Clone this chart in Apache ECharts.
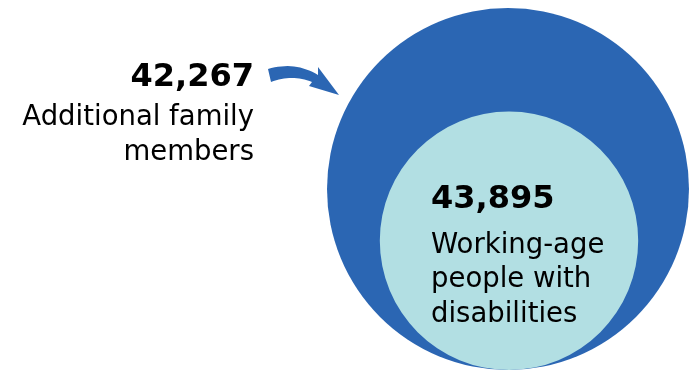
<!DOCTYPE html>
<html>
<head>
<meta charset="utf-8">
<script src="https://cdn.jsdelivr.net/npm/echarts@6/dist/echarts.min.js"></script>
<style>
  html, body { margin: 0; padding: 0; background: #fff; }
  #chart { width: 689px; height: 371px; }
</style>
</head>
<body>
<div id="chart"></div>
<script>
// Groups shown as nested circles: circle area follows the group's count
const groupNames = ['Additional family members', 'Working-age people with disabilities'];
const groupValues = [42267, 43895];
const groupLines = [['Additional family', 'members'], ['Working-age', 'people with', 'disabilities']];
const groupColors = ['#2b66b3', '#b2dfe3'];

const total = groupValues[0] + groupValues[1];
const fmt = v => v.toLocaleString('en-US');

const chart = echarts.init(document.getElementById('chart'));

// Outer circle holds everyone; inner circle sits on the outer circle's bottom edge
const outerR = 181;
const outerCx = 508, outerCy = 189;
const innerR = outerR * Math.sqrt(groupValues[1] / total);
const innerCy = outerCy + outerR - innerR;

const font = '"DejaVu Sans", Verdana, sans-serif';

function pieCircle(name, value, color, cx, cy, r) {
  return {
    type: 'pie',
    name: name,
    center: [cx, cy],
    radius: [0, r],
    silent: true,
    animation: false,
    label: { show: false },
    labelLine: { show: false },
    itemStyle: { color: color, borderWidth: 0 },
    data: [{ name: name, value: value }]
  };
}

// sample a quadratic Bezier into points
function quad(p0, c, p1, n) {
  const pts = [];
  for (let i = 0; i <= n; i++) {
    const t = i / n, u = 1 - t;
    pts.push([u * u * p0[0] + 2 * u * t * c[0] + t * t * p1[0],
              u * u * p0[1] + 2 * u * t * c[1] + t * t * p1[1]]);
  }
  return pts;
}

// curved arrow: upper edge, head, then lower edge back to the tail
const arrowPts = [].concat(
  quad([268, 69], [295, 61], [318, 75], 16),
  [[318, 67], [339, 95], [309, 86]],
  quad([312, 82], [292, 74], [271, 82], 16)
);

// one text line, vertically centred on y
function line(text, x, y, size, bold, align) {
  return {
    type: 'text', x: x, y: y, z: 100,
    style: {
      text: text, fontFamily: font, fill: '#000',
      fontSize: size, fontWeight: bold ? 'bold' : 'normal',
      align: align, verticalAlign: 'middle'
    }
  };
}

const lineGap = 35;
const leftX = 254, innerX = 431;
const graphics = [];

// left-hand callout
graphics.push(line(fmt(groupValues[0]), leftX, 78, 32, true, 'right'));
groupLines[0].forEach((t, i) => graphics.push(line(t, leftX, 118 + i * lineGap, 27.5, false, 'right')));
graphics.push({ type: 'polygon', z: 100, shape: { points: arrowPts }, style: { fill: groupColors[0] } });

// label inside the inner circle
graphics.push(line(fmt(groupValues[1]), innerX, 200, 32, true, 'left'));
groupLines[1].forEach((t, i) => graphics.push(line(t, innerX, 245.5 + i * 34.5, 27.5, false, 'left')));

chart.setOption({
  animation: false,
  series: [
    pieCircle('All', total, groupColors[0], outerCx, outerCy, outerR),
    pieCircle(groupNames[1], groupValues[1], groupColors[1], outerCx + 1, innerCy, innerR)
  ],
  graphic: graphics
});
</script>
</body>
</html>
